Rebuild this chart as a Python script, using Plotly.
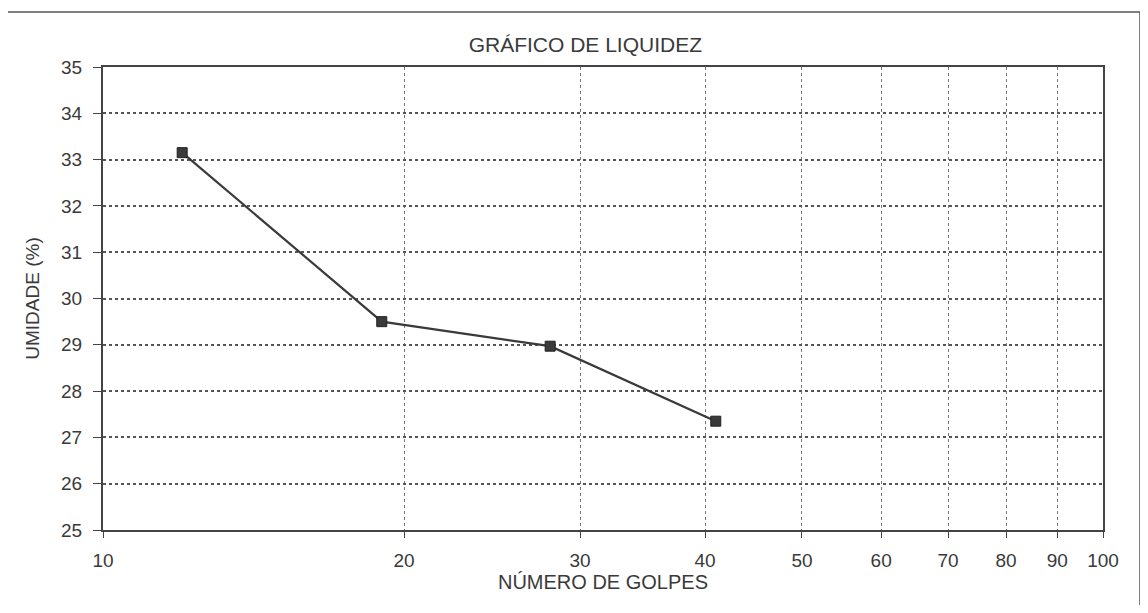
import plotly.graph_objects as go

golpes = [12, 19, 28, 41]
umidade = [33.15, 29.5, 28.97, 27.35]
x_ticks = [10, 20, 30, 40, 50, 60, 70, 80, 90, 100]
y_ticks = [25, 26, 27, 28, 29, 30, 31, 32, 33, 34, 35]

ink = "#3a3a3a"
fig = go.Figure()
fig.add_trace(go.Scatter(
    x=golpes, y=umidade, mode="lines+markers",
    line=dict(color=ink, width=2.2),
    marker=dict(symbol="square", size=10, color=ink, line=dict(color="#222", width=1)),
    showlegend=False,
))

fig.update_layout(
    width=1132, height=597,
    margin=dict(l=95, r=37, t=59, b=75),
    paper_bgcolor="white", plot_bgcolor="white",
    font=dict(family="Liberation Sans, Arial", size=20, color="#3a3a3a"),
    title=dict(text="GRÁFICO DE LIQUIDEZ", x=0.51, xanchor="center", y=0.938, yanchor="middle",
               font=dict(size=21, color="#3a3a3a")),
    xaxis=dict(
        type="log", range=[1, 2],
        tickvals=x_ticks, ticktext=[str(v) for v in x_ticks],
        showgrid=True, gridcolor="#777", griddash="dot", gridwidth=1,
        ticks="outside", ticklen=6, tickcolor="#444",
        ticklabelstandoff=6,
        showline=True, linecolor="#444", linewidth=2, mirror=True,
        zeroline=False,
        title=dict(text="NÚMERO DE GOLPES", font=dict(size=20, color="#3a3a3a"), standoff=4),
        tickfont=dict(size=19, color="#3a3a3a"),
    ),
    yaxis=dict(
        range=[25, 35], tickvals=y_ticks,
        showgrid=True, gridcolor="#555", griddash="dot", gridwidth=1.5,
        ticks="outside", ticklen=8, tickcolor="#444",
        ticklabelstandoff=7,
        showline=True, linecolor="#444", linewidth=2, mirror=True,
        zeroline=False,
        title=dict(text="UMIDADE (%)", font=dict(size=19, color="#3a3a3a"), standoff=16),
        tickfont=dict(size=19, color="#3a3a3a"),
    ),
)

fig.add_shape(type="rect", xref="paper", yref="paper",
              x0=-0.098, x1=1.037, y0=-0.168, y1=1.119,
              line=dict(color="#555", width=1.5), layer="below")

fig.write_html("out.html")
